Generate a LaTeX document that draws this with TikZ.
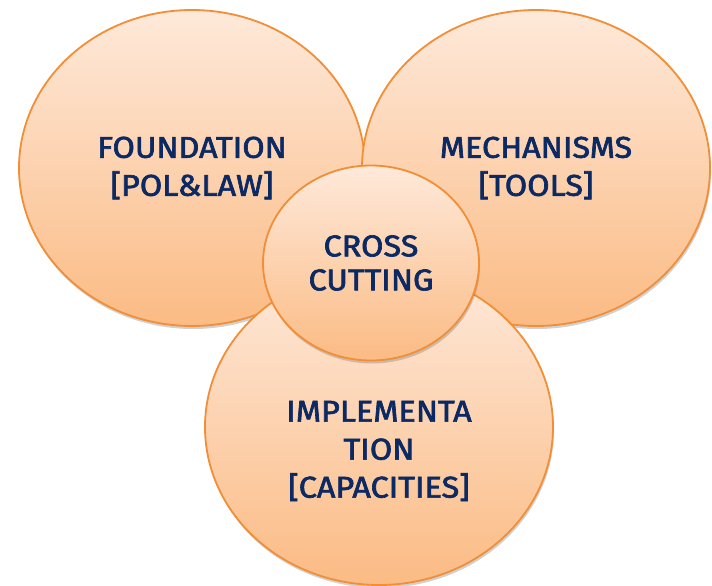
\documentclass[tikz,border=0pt]{standalone}
\usepackage{fontspec}
\setmainfont{Fira Sans}[FakeStretch=1.08, FakeBold=2.2]
\usetikzlibrary{shapes.geometric, positioning, shadows}

\definecolor{ringedge}{HTML}{F28E36}
\definecolor{ringtop}{HTML}{FEE9DA}
\definecolor{ringbot}{HTML}{FBBB84}
\definecolor{navy}{HTML}{0B2963}

\tikzset{
  ring/.style={ellipse, draw=ringedge, line width=1.8pt, top color=ringtop, bottom color=ringbot,
    inner sep=0pt, drop shadow={shadow xshift=1pt, shadow yshift=-3pt, opacity=0.3, fill=black!60}},
  lbl/.style={text=navy, font=\fontsize{30}{38}\selectfont, align=center}
}

\begin{document}
\begin{tikzpicture}[x=1pt, y=-1pt]
  \useasboundingbox (0,0) rectangle (712,586);

  % Big circles
  \node[ring, lbl, minimum width=346pt, minimum height=316pt] (found) at (192,168) {FOUNDATION\\{}[POL\&LAW]};
  \node[ring, lbl, minimum width=348pt, minimum height=316pt] (mech) at (536,168) {MECHANISMS\\{}[TOOLS]};
  \node[ring, minimum width=348pt, minimum height=316pt] (impl) at (379,427) {};
  \node[lbl] (impl_label) at ([yshift=-24pt]impl.center) {IMPLEMENTA\\TION\\{}[CAPACITIES]};

  % Middle circle
  \node[ring, lbl, font=\fontsize{30}{34}\selectfont, minimum width=216pt, minimum height=195pt] (cross) at (371,263) {CROSS\\CUTTING};
\end{tikzpicture}
\end{document}
